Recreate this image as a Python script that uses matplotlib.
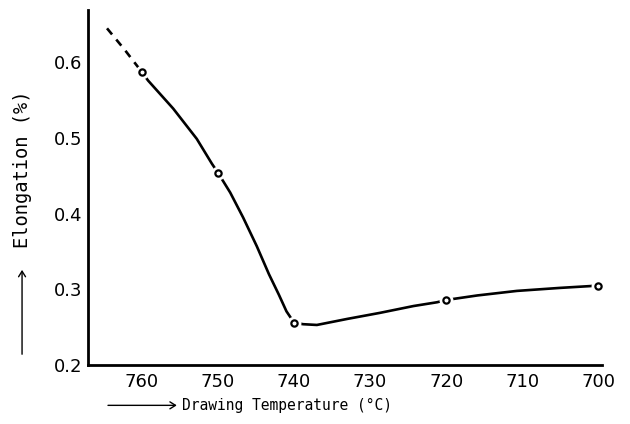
import matplotlib
matplotlib.use("Agg")
import matplotlib.pyplot as plt

# Measured data points (marked)
temps = [760, 750, 740, 720, 700]
elong = [0.587, 0.454, 0.256, 0.286, 0.305]

# Hand-drawn curve
dash_temp = [764.6, 762.3, 760.0]
dash_elong = [0.645, 0.617, 0.587]
curve_temp = [760.0, 759.2, 755.9, 752.8, 750.8, 750.0, 748.4, 746.7, 744.9,
              743.3, 742.0, 741.0, 740.0, 738.8, 737.0, 733.0, 728.7, 724.3,
              721.2, 720.0, 715.9, 710.7, 705.0, 700.0]
curve_elong = [0.587, 0.576, 0.539, 0.499, 0.466, 0.454, 0.428, 0.395, 0.357,
               0.320, 0.293, 0.271, 0.256, 0.254, 0.253, 0.261, 0.269, 0.278,
               0.283, 0.286, 0.292, 0.298, 0.302, 0.305]

xticks = [760, 750, 740, 730, 720, 710, 700]
yticks = [0.2, 0.3, 0.4, 0.5, 0.6]
ytick_labels = ["0.2", "0.3", "0.4", "0.5", "0.6"]

fig = plt.figure(figsize=(6.3, 4.24), dpi=100)
ax = fig.add_axes([0.1397, 0.139, 0.9556 - 0.1397, 0.976 - 0.139])

ax.plot(dash_temp, dash_elong, color="black", lw=1.9, ls=(0, (3, 2.5)),
        solid_capstyle="round", zorder=2)
ax.plot(curve_temp, curve_elong, color="black", lw=1.9, zorder=2,
        solid_joinstyle="round")
# white halo around markers (gaps in the drawn line)
ax.plot(temps, elong, ls="none", marker="o", ms=10, mfc="white", mec="none",
        zorder=3)
ax.plot(temps, elong, ls="none", marker="o", ms=4.5, mfc="white", mec="black",
        mew=1.6, zorder=4)

ax.set_xlim(767.1, 699.5)
ax.set_ylim(0.2, 0.669)
ax.set_xticks(xticks)
ax.set_yticks(yticks)
ax.set_yticklabels(ytick_labels)
ax.tick_params(axis="both", length=0, labelsize=13)
ax.tick_params(axis="x", pad=6)
ax.tick_params(axis="y", pad=4)

for s in ["top", "right"]:
    ax.spines[s].set_visible(False)
for s in ["left", "bottom"]:
    ax.spines[s].set_linewidth(2.0)

# axis labels with arrows
fig.text(0.035, 0.60, "Elongation (%)", rotation=90, ha="center", va="center",
         fontsize=13.5, family="DejaVu Sans Mono")
fig.text(0.289, 0.044, "Drawing Temperature (°C)", ha="left", va="center",
         fontsize=10.5, family="DejaVu Sans Mono")
fig.patches.append(matplotlib.patches.FancyArrowPatch(
    (0.167, 0.044), (0.285, 0.044), transform=fig.transFigure,
    arrowstyle="->,head_length=4,head_width=2.5", lw=1.0, color="black"))
fig.patches.append(matplotlib.patches.FancyArrowPatch(
    (0.035, 0.158), (0.035, 0.37), transform=fig.transFigure,
    arrowstyle="->,head_length=4,head_width=2.5", lw=1.0, color="black"))

fig.savefig("out.png", dpi=100)
